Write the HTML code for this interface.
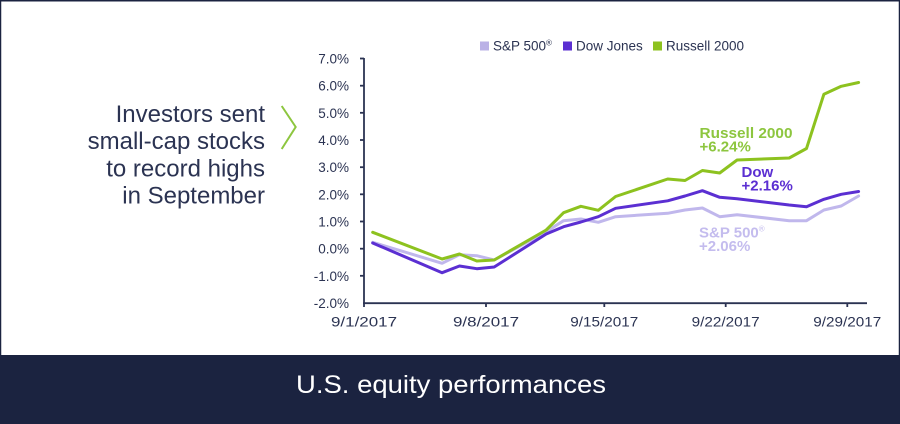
<!DOCTYPE html>
<html>
<head>
<meta charset="utf-8">
<style>
  html,body{margin:0;padding:0;background:#ffffff;}
  svg{display:block;}
  text{font-family:"Liberation Sans", sans-serif;}
</style>
</head>
<body>
<svg width="900" height="424" viewBox="0 0 900 424" xmlns="http://www.w3.org/2000/svg">
  <!-- frame -->
  <rect x="0" y="0" width="900" height="424" fill="#ffffff"/>
  <rect x="0.5" y="0.75" width="899" height="356" fill="none" stroke="#1b2340" stroke-width="1.5"/>
  <!-- banner -->
  <rect x="0" y="355" width="900" height="69" fill="#1b2340"/>
  <text x="451" y="393" font-size="25" fill="#ffffff" text-anchor="middle" textLength="310" lengthAdjust="spacingAndGlyphs">U.S. equity performances</text>

  <!-- left annotation -->
  <g font-size="24" fill="#2b3352" text-anchor="end">
    <text x="265" y="122">Investors sent</text>
    <text x="265" y="149">small-cap stocks</text>
    <text x="265" y="176.5">to record highs</text>
    <text x="265" y="203.5">in September</text>
  </g>
  <polyline points="281.7,106 295.7,127 281.7,149" fill="none" stroke="#8dc63f" stroke-width="2"/>

  <!-- legend -->
  <rect x="480" y="41.5" width="9" height="9" fill="#bab1e6"/>
  <text x="493" y="50.5" font-size="13.5" fill="#2b3352">S&amp;P 500<tspan font-size="8" dy="-5">®</tspan></text>
  <rect x="563" y="41.5" width="9" height="9" fill="#5b2fd2"/>
  <text x="576" y="50.5" font-size="13.5" fill="#2b3352">Dow Jones</text>
  <rect x="653" y="41.5" width="9" height="9" fill="#8dc21f"/>
  <text x="666" y="50.5" font-size="13.5" fill="#2b3352">Russell 2000</text>

  <!-- y axis labels -->
  <g font-size="13.5" fill="#2b3352" text-anchor="end">
    <text x="349" y="63.5">7.0%</text>
    <text x="349" y="90.7">6.0%</text>
    <text x="349" y="117.8">5.0%</text>
    <text x="349" y="145">4.0%</text>
    <text x="349" y="172.2">3.0%</text>
    <text x="349" y="199.3">2.0%</text>
    <text x="349" y="226.5">1.0%</text>
    <text x="349" y="253.7">0.0%</text>
    <text x="349" y="280.8">-1.0%</text>
    <text x="349" y="308">-2.0%</text>
  </g>
  <!-- axes -->
  <g stroke="#2b3352" stroke-width="1.8" fill="none">
    <line x1="364" y1="58" x2="364" y2="304"/>
    <line x1="363" y1="303.2" x2="867" y2="303.2"/>
    <!-- y ticks -->
    <line x1="360" y1="58.5" x2="364" y2="58.5"/>
    <line x1="360" y1="85.7" x2="364" y2="85.7"/>
    <line x1="360" y1="112.8" x2="364" y2="112.8"/>
    <line x1="360" y1="140" x2="364" y2="140"/>
    <line x1="360" y1="167.2" x2="364" y2="167.2"/>
    <line x1="360" y1="194.3" x2="364" y2="194.3"/>
    <line x1="360" y1="221.5" x2="364" y2="221.5"/>
    <line x1="360" y1="248.7" x2="364" y2="248.7"/>
    <line x1="360" y1="275.8" x2="364" y2="275.8"/>
    <!-- x ticks -->
    <line x1="364" y1="303" x2="364" y2="307"/>
    <line x1="486" y1="303" x2="486" y2="307"/>
    <line x1="604.3" y1="303" x2="604.3" y2="307"/>
    <line x1="725.7" y1="303" x2="725.7" y2="307"/>
    <line x1="847.3" y1="303" x2="847.3" y2="307"/>
  </g>
  <!-- x labels -->
  <g font-size="14" fill="#2b3352" text-anchor="middle">
    <text x="364" y="326.5" textLength="66" lengthAdjust="spacingAndGlyphs">9/1/2017</text>
    <text x="486" y="326.5" textLength="66" lengthAdjust="spacingAndGlyphs">9/8/2017</text>
    <text x="604.3" y="326.5" textLength="68" lengthAdjust="spacingAndGlyphs">9/15/2017</text>
    <text x="725.7" y="326.5" textLength="68" lengthAdjust="spacingAndGlyphs">9/22/2017</text>
    <text x="847.3" y="326.5" textLength="68" lengthAdjust="spacingAndGlyphs">9/29/2017</text>
  </g>

  <!-- series -->
  <g fill="none" stroke-width="3" stroke-linejoin="round" stroke-linecap="round">
    <polyline stroke="#c0b7ec" points="372.7,242.3 442.1,263.3 459.5,254.7 476.8,255.7 494.2,260 546.2,231.7 563.6,220.7 580.9,219 598.3,222.3 615.6,216.7 667.7,213.3 685,210 702.4,208 719.7,216.7 737.1,214.7 789.2,220.7 806.5,220.7 823.9,210 841.2,206 858.6,196"/>
    <polyline stroke="#5b2fd2" points="372.7,243 442.1,272.7 459.5,266 476.8,268.7 494.2,267 546.2,234 563.6,226.7 580.9,222 598.3,216.7 615.6,208.3 667.7,200.8 685,196 702.4,190.7 719.7,197.3 737.1,198.7 789.2,205 806.5,206.7 823.9,199.3 841.2,194.3 858.6,191.5"/>
    <polyline stroke="#8dc21f" points="372.7,232.3 442.1,259 459.5,254 476.8,261 494.2,260 546.2,230 563.6,212.7 580.9,206.3 598.3,210.3 615.6,196.5 667.7,179 685,180.5 702.4,170.5 719.7,173 737.1,160 789.2,158 806.5,148.5 823.9,94.2 841.2,86.3 858.6,82.5"/>
  </g>

  <!-- series annotations -->
  <g font-size="15" font-weight="bold">
    <text x="699.5" y="138" fill="#8dc63f" textLength="93" lengthAdjust="spacingAndGlyphs">Russell 2000</text>
    <text x="699.5" y="151.5" fill="#8dc63f">+6.24%</text>
    <text x="741.5" y="177" fill="#5b2fd2">Dow</text>
    <text x="741.5" y="190.5" fill="#5b2fd2">+2.16%</text>
    <text x="699" y="237.5" fill="#c4bcee">S&amp;P 500<tspan font-size="8" dy="-6" font-weight="normal">®</tspan></text>
    <text x="699" y="251" fill="#c4bcee">+2.06%</text>
  </g>
</svg>
</body>
</html>
